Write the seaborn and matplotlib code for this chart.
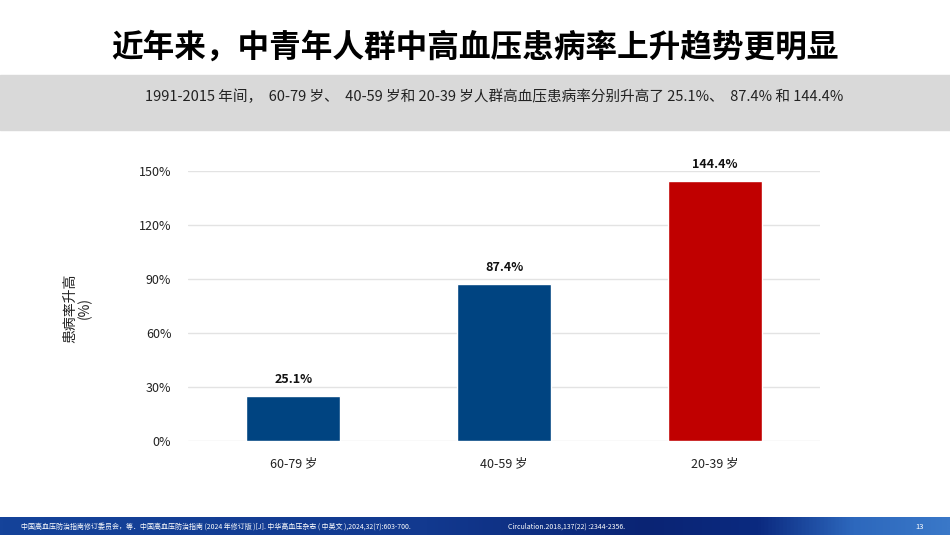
import matplotlib
matplotlib.use("Agg")
import matplotlib.pyplot as plt
import seaborn as sns
import numpy as np
import pandas as pd
from matplotlib.patches import Rectangle
from matplotlib.colors import LinearSegmentedColormap

# data
age_groups = ['60-79 岁', '40-59 岁', '20-39 岁']
rise_pct = [25.1, 87.4, 144.4]
bar_colors = ['#004481', '#004481', '#C00000']
y_ticks = [0, 30, 60, 90, 120, 150]

title = '近年来，中青年人群中高血压患病率上升趋势更明显'
subtitle = '1991-2015 年间，  60-79 岁、  40-59 岁和 20-39 岁人群高血压患病率分别升高了 25.1%、  87.4% 和 144.4%'
footer_left = '中国高血压防治指南修订委员会，等．中国高血压防治指南 (2024 年修订版 )[J]. 中华高血压杂志 ( 中英文 ),2024,32(7):603-700.'
footer_mid = 'Circulation.2018,137(22) :2344-2356.'

sns.set_theme(style='white')
plt.rcParams['font.family'] = ['Noto Sans CJK SC', 'DejaVu Sans']

df = pd.DataFrame({'group': age_groups, 'rise': rise_pct})

fig = plt.figure(figsize=(9.5, 5.35), dpi=100)
fig.patch.set_facecolor('white')

# grey subtitle band
fig.patches.append(Rectangle((0, (535 - 130) / 535), 1, 55 / 535,
                             transform=fig.transFigure, color='#d9d9d9', zorder=0))
fig.text(0.5, (535 - 48) / 535, title, ha='center', va='center',
         fontsize=22.8, fontweight='bold', color='black')
fig.text(0.153, (535 - 97) / 535, subtitle, ha='left', va='center',
         fontsize=10.5, color='#222222')

# blue gradient footer
fax = fig.add_axes([0, 0, 1, 18 / 535])
grad = np.linspace(0, 1, 512).reshape(1, -1)
cmap = LinearSegmentedColormap.from_list(
    'ft', [(0, '#15439a'), (0.45, '#12398f'), (0.68, '#0a2474'),
           (0.8, '#0b2a80'), (0.9, '#2d68bd'), (1.0, '#3a78c8')])
fax.imshow(grad, aspect='auto', cmap=cmap, extent=[0, 1, 0, 1])
fax.set_axis_off()
fax.text(0.022, 0.45, footer_left, fontsize=5, color='white', va='center')
fax.text(0.535, 0.45, footer_mid, fontsize=5, color='white', va='center')
fax.text(0.972, 0.45, '13', fontsize=5.5, color='white', va='center', ha='right')

ax = fig.add_axes([188 / 950, (535 - 441) / 535, 632 / 950, 270 / 535])
sns.barplot(data=df, x='group', y='rise', hue='group', palette=bar_colors,
            legend=False, width=0.445, saturation=1, ax=ax, zorder=3)
ax.set_ylim(0, 150)
ax.set_xlim(-0.5, 2.5)
ax.set_yticks(y_ticks)
ax.set_yticklabels([f'{v}%' for v in y_ticks])
ax.yaxis.grid(True, color='#e3e3e3', linewidth=1)
ax.set_axisbelow(True)
for s in ax.spines.values():
    s.set_visible(False)
ax.tick_params(axis='y', length=0, pad=12, labelsize=9, labelcolor='#222222')
ax.tick_params(axis='x', length=0, pad=12, labelsize=9, labelcolor='#222222')
ax.set_xlabel('')
ax.set_ylabel('')

for i, v in enumerate(rise_pct):
    ax.text(i, v + 5.5, f'{v}%', ha='center', va='bottom', fontsize=9,
            fontweight='bold', color='#111111', clip_on=False)

fig.text(78 / 950, (535 - 308) / 535, '患病率升高\n(%)', rotation=90, ha='center',
         va='center', fontsize=10, color='#222222', linespacing=1.0)

fig.savefig('out.png', dpi=100)
